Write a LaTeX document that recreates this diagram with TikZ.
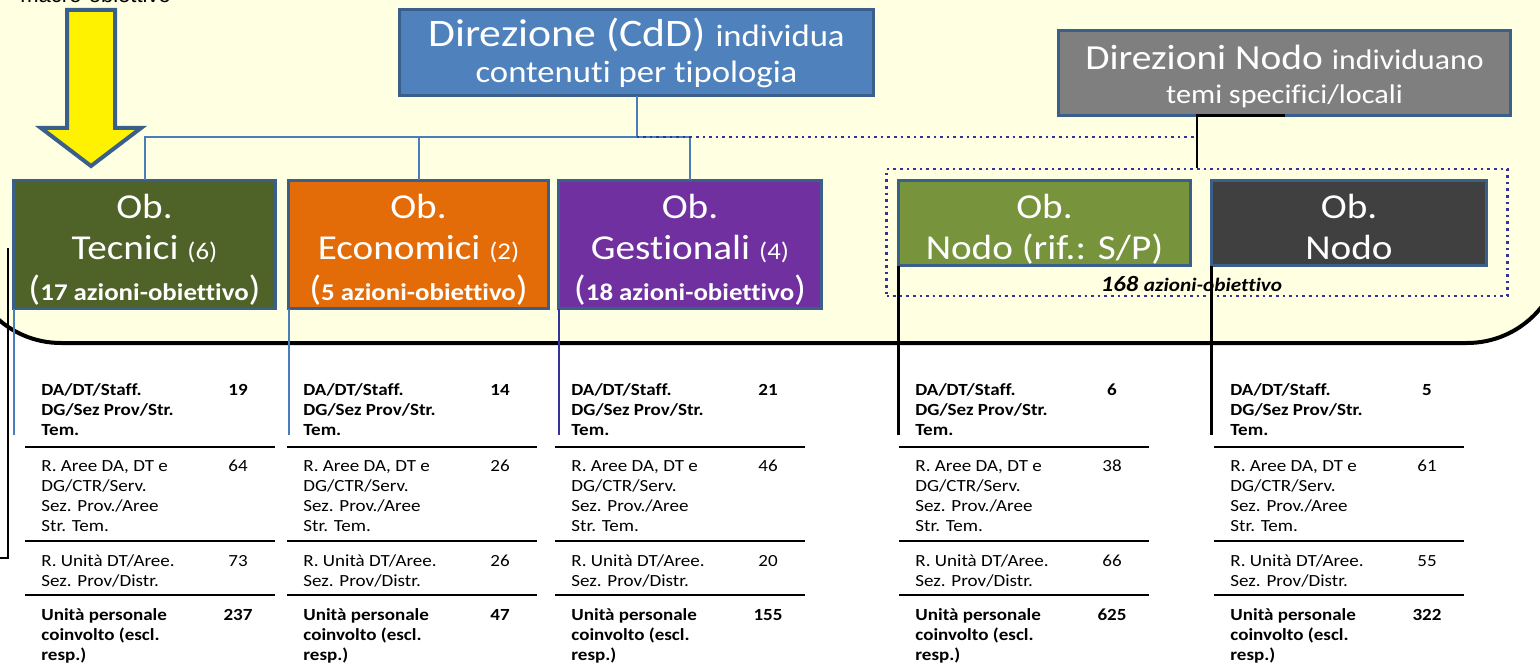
\documentclass[tikz,border=0pt]{standalone}
\usepackage{fontspec}
\setmainfont{Carlito}[FakeStretch=1.12, Ligatures=NoCommon]
\newfontfamily\arialfont{Liberation Sans}
\usetikzlibrary{calc}

\definecolor{sfondo}{HTML}{FFFFE1}
\definecolor{bordo}{HTML}{3A5F8B}
\definecolor{azzurro}{HTML}{4A7EBB}
\definecolor{blu}{HTML}{333399}
\definecolor{cDirezione}{HTML}{4F81BD}
\definecolor{cGrigio}{HTML}{7F7F7F}
\definecolor{cTecnici}{HTML}{4F6228}
\definecolor{cEconomici}{HTML}{E36C09}
\definecolor{cGestionali}{HTML}{7030A0}
\definecolor{cNodoSP}{HTML}{77933C}
\definecolor{cNodo}{HTML}{404040}

\newcommand\alto{\rule{0pt}{15pt}}
\newcommand\altino{\rule{0pt}{8pt}}

\tikzset{
	obbox/.style={draw=bordo, line width=1.5pt, inner sep=0pt, outer sep=0pt},
	obtesto/.style={text=white, align=center, inner sep=0pt, anchor=north, font=\fontsize{17.5}{20.5}\selectfont},
	filo/.style={draw=azzurro, line width=1pt},
	puntini/.style={draw=blu, line width=1.3pt, dotted},
	nero/.style={draw=black, line width=1.4pt},
	riga/.style={draw=black, line width=0.8pt},
	voce/.style={anchor=north west, inner sep=0pt, align=left, font=\fontsize{8.5}{10}\selectfont},
	vocebf/.style={voce, font=\fontsize{8.5}{10}\selectfont\bfseries},
	cifra/.style={anchor=north, inner sep=0pt, font=\fontsize{8.5}{10}\selectfont},
	cifrabf/.style={cifra, font=\fontsize{8.5}{10}\selectfont\bfseries}
}

% colonna di una tabella: (x testo)[nome](numeri)
\def\tabella(#1)[#2](#3/#4/#5/#6){
	\node[vocebf] (#2-a) at (#1, 379) {\altino DA/DT/Staff.\\DG/Sez Prov/Str.\\Tem.};
	\node[cifrabf] (#2-na) at ({#1+197}, 379) {\altino #3};
	\draw[riga] ({#1-16}, 447) -- ({#1+234}, 447);
	\node[voce] (#2-b) at (#1, 455) {\altino R. Aree DA, DT e\\DG/CTR/Serv.\\Sez. Prov./Aree\\Str. Tem.};
	\node[cifra] (#2-nb) at ({#1+197}, 455) {\altino #4};
	\draw[riga] ({#1-16}, 541) -- ({#1+234}, 541);
	\node[voce] (#2-c) at (#1, 550) {\altino R. Unità DT/Aree.\\Sez. Prov/Distr.};
	\node[cifra] (#2-nc) at ({#1+197}, 550) {\altino #5};
	\draw[riga] ({#1-16}, 595) -- ({#1+234}, 595);
	\node[vocebf] (#2-d) at (#1, 604) {\altino Unità personale\\coinvolto (escl.\\resp.)};
	\node[cifrabf] (#2-nd) at ({#1+197}, 604) {\altino #6};
}

\begin{document}
\begin{tikzpicture}[x=0.5pt, y=-0.5pt]
	%%%%% START %%%%%
	\useasboundingbox (0, 0) rectangle (1540, 668);
	
	\draw[fill=sfondo, line width=2pt, rounded corners=47.5pt] (-34, -200) rectangle (1562, 343);
	
	\node[anchor=base west, inner sep=0pt, font=\arialfont\fontsize{11}{12}\selectfont] (macro) at (20, 3) {macro-obiettivo};
	\draw[fill=yellow, draw=bordo, line width=2pt] (67, 10) -- (115, 10) -- (115, 128) -- (141, 128) -- (91, 166) -- (41, 128) -- (67, 128) -- cycle;
	
	% direzioni
	\node[obbox, fill=cDirezione, minimum width=237pt, minimum height=43pt] (direzione) at (636.5, 53) {};
	\node[obtesto, font=\fontsize{19.5}{18}\selectfont] (direzione-t) at (636.5, 16) {\alto Direzione (CdD) {\fontsize{15.5}{18}\selectfont individua}\\{\fontsize{15.5}{18}\selectfont contenuti per tipologia}};
	
	\node[obbox, fill=cGrigio, minimum width=226pt, minimum height=42.5pt] (dirnodo) at (1284.5, 73) {};
	\node[obtesto, font=\fontsize{17.6}{17}\selectfont] (dirnodo-t) at (1284.5, 39) {\alto Direzioni Nodo {\fontsize{14.2}{17}\selectfont individuano}\\{\fontsize{13.5}{17}\selectfont temi specifici/locali}};
	
	% obiettivi
	\node[draw=blu, line width=1.3pt, dotted, minimum width=310.5pt, minimum height=63.5pt, inner sep=0pt] (gruppo) at (1197, 232.5) {};
	
	\node[obbox, fill=cTecnici, minimum width=131pt, minimum height=64pt] (tecnici) at (144.5, 244.5) {};
	\node[obtesto] (tecnici-t) at (144.5, 188) {\alto Ob.\\Tecnici {\fontsize{12}{20.5}\selectfont (6)}\\({\fontsize{12}{20.5}\selectfont\bfseries 17 azioni-obiettivo})};
	
	\node[obbox, fill=cEconomici, minimum width=130pt, minimum height=64pt] (economici) at (418.5, 244.5) {};
	\node[obtesto] (economici-t) at (418.5, 188) {\alto Ob.\\Economici {\fontsize{12}{20.5}\selectfont (2)}\\({\fontsize{12}{20.5}\selectfont\bfseries 5 azioni-obiettivo})};
	
	\node[obbox, fill=cGestionali, minimum width=131.5pt, minimum height=64pt] (gestionali) at (690, 244.5) {};
	\node[obtesto] (gestionali-t) at (690, 188) {\alto Ob.\\Gestionali {\fontsize{12}{20.5}\selectfont (4)}\\({\fontsize{12}{20.5}\selectfont\bfseries 18 azioni-obiettivo})};
	
	\node[obbox, fill=cNodoSP, minimum width=146pt, minimum height=42.5pt] (nodosp) at (1044.5, 223) {};
	\node[obtesto] (nodosp-t) at (1044.5, 188) {\alto Ob.\\Nodo (rif.: S/P)};
	
	\node[obbox, fill=cNodo, minimum width=137.5pt, minimum height=42.5pt] (nodo) at (1349, 223) {};
	\node[obtesto] (nodo-t) at (1349, 188) {\alto Ob.\\Nodo};
	
	\node[anchor=base, inner sep=0pt, font=\fontsize{11}{12}\selectfont\bfseries\itshape] (azioni) at (1191.5, 291) {168 {\fontsize{9.5}{12}\selectfont azioni-obiettivo}};
	
	% collegamenti
	\coordinate (snodo) at ($(direzione.south |- 0, 137)$);
	\draw[filo] (direzione.south) -- (snodo);
	\draw[filo] (snodo) -| (tecnici.north);
	\draw[filo] (snodo) -| (economici.north);
	\draw[filo] (snodo) -| (gestionali.north);
	\draw[puntini] (snodo) -| (gruppo.north);
	\draw[nero] (dirnodo.south) -| (gruppo.north);
	
	\coordinate (fondo) at (0, 435);
	\draw[filo] (tecnici.south west) -- (tecnici.south west |- fondo);
	\draw[filo] (economici.south west) -- (economici.south west |- fondo);
	\draw[draw=blu, line width=1pt] (gestionali.south west) -- (gestionali.south west |- fondo);
	\draw[nero] (nodosp.south west) -- (nodosp.south west |- fondo);
	\draw[nero] (nodo.south west) -- (nodo.south west |- fondo);
	
	\coordinate (staffa-a) at (8, 248);
	\coordinate (staffa-b) at (-5, 558);
	\draw[nero] (staffa-a) |- (staffa-b);
	
	% tabelle
	\tabella(41)[tab1](19/64/73/237)
	\tabella(303)[tab2](14/26/26/47)
	\tabella(571)[tab3](21/46/20/155)
	\tabella(915)[tab4](6/38/66/625)
	\tabella(1230)[tab5](5/61/55/322)
	
	%%%%% END %%%%%
\end{tikzpicture}
\end{document}
